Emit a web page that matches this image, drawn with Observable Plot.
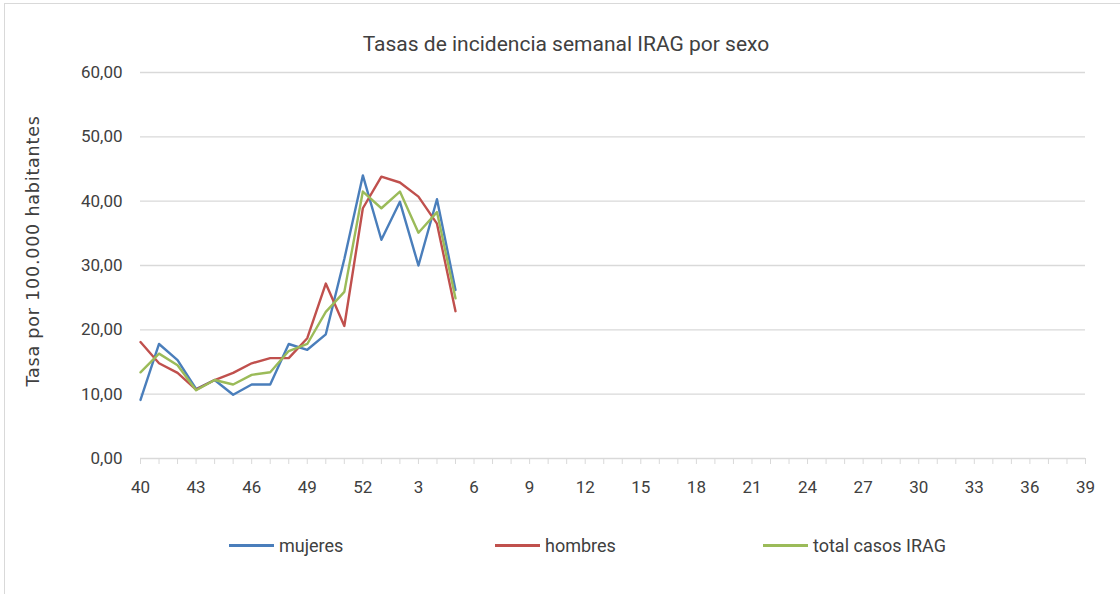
<!DOCTYPE html>
<html>
<head>
<meta charset="utf-8">
<script src="https://cdn.jsdelivr.net/npm/d3@7"></script>
<script src="https://cdn.jsdelivr.net/npm/@observablehq/plot@0.6"></script>
<style>
  html, body { margin: 0; padding: 0; background: #fff; }
  #wrap { position: relative; width: 1120px; height: 594px; overflow: hidden; background: #fff;
          font-family: Roboto, "Liberation Sans", sans-serif; }
  #frame { position: absolute; left: 4px; top: 3px; width: 1130px; height: 600px; border: 1px solid #d9d9d9; box-sizing: border-box; }
  #title { position: absolute; left: 0; top: 0; width: 1132px; height: 60px; line-height: 88px; text-align: center;
           font-size: 21px; color: #404040; }
  #chart { position: absolute; left: 0; top: 60px; }
  #ylabel { position: absolute; left: 33px; top: 251px; transform: translate(-50%, -50%) rotate(-90deg);
            white-space: nowrap; font-family: "DejaVu Sans", Verdana, sans-serif; font-size: 17.5px; letter-spacing: 0.8px; color: #404040; }
  .leg { position: absolute; top: 535px; height: 20px; display: flex; align-items: center; font-size: 18px; color: #404040; }
  .leg span.sw { display: inline-block; width: 45px; height: 3px; margin-right: 5px; }
</style>
</head>
<body>
<div id="wrap">
  <div id="frame"></div>
  <div id="title">Tasas de incidencia semanal IRAG por sexo</div>
  <div id="chart"></div>
  <div id="ylabel">Tasa por 100.000 habitantes</div>
  <div id="legend"></div>
</div>
<script>
const weeks = [40,41,42,43,44,45,46,47,48,49,50,51,52,1,2,3,4,5,6,7,8,9,10,11,12,13,14,15,16,17,18,19,20,21,22,23,24,25,26,27,28,29,30,31,32,33,34,35,36,37,38,39];
const tickWeeks = [40,43,46,49,52,3,6,9,12,15,18,21,24,27,30,33,36,39];
const yTicks = [0,10,20,30,40,50,60];
const seriesNames = ["mujeres", "hombres", "total casos IRAG"];
const seriesColors = ["#4a7ebb", "#c0504d", "#9bbb59"];
const mujeres = [9.1,17.8,15.3,10.8,12.2,9.9,11.5,11.5,17.8,16.9,19.3,31.0,44.0,34.0,39.9,30.0,40.3,26.2];
const hombres = [18.1,14.8,13.3,10.7,12.2,13.3,14.8,15.6,15.6,18.7,27.2,20.6,38.9,43.8,42.9,40.7,36.5,22.9];
const total = [13.4,16.3,14.5,10.6,12.2,11.5,13.0,13.4,16.7,17.8,22.8,25.9,41.5,38.9,41.5,35.1,38.3,24.9];

// position index of each week along the season axis
const idx = weeks.map((w, i) => i);
const tickIdx = tickWeeks.map(w => weeks.indexOf(w));

const seriesValues = [mujeres, hombres, total];
const rows = [];
seriesValues.forEach((vals, s) => vals.forEach((v, i) => rows.push({pos: i, week: weeks[i], value: v, serie: seriesNames[s]})));

const fmt = d => d3.format(".2f")(d).replace(".", ",");

const plot = Plot.plot({
  width: 1120,
  height: 440,
  marginTop: 12,
  marginBottom: 42,
  marginLeft: 140,
  marginRight: 35,
  style: {fontFamily: "Roboto, 'Liberation Sans', sans-serif", fontSize: "17px", color: "#595959", background: "transparent"},
  x: {type: "linear", domain: [0, weeks.length - 1], label: null},
  y: {domain: [0, 60], label: null},
  color: {domain: seriesNames, range: seriesColors},
  marks: [
    Plot.gridY(yTicks, {stroke: "#d9d9d9", strokeOpacity: 1, strokeWidth: 1.3}),
    Plot.axisY(yTicks, {tickSize: 0, tickPadding: 18, tickFormat: fmt, label: null, fill: "#404040"}),
    Plot.axisX(idx, {tickSize: 6, tickFormat: () => "", stroke: "#d9d9d9", strokeOpacity: 1, label: null}),
    Plot.axisX(tickIdx, {tickSize: 0, tickPadding: 22, tickFormat: i => String(weeks[i]), label: null, fill: "#404040"}),
    Plot.line(rows, {x: "pos", y: "value", z: "serie", stroke: "serie", strokeWidth: 2.4, curve: "linear"})
  ]
});
document.getElementById("chart").appendChild(plot);

const legendX = [229, 495, 763];
const legend = document.getElementById("legend");
seriesNames.forEach((n, i) => {
  const d = document.createElement("div");
  d.className = "leg";
  d.style.left = legendX[i] + "px";
  d.innerHTML = `<span class="sw" style="background:${seriesColors[i]}"></span>${n}`;
  legend.appendChild(d);
});
</script>
</body>
</html>
